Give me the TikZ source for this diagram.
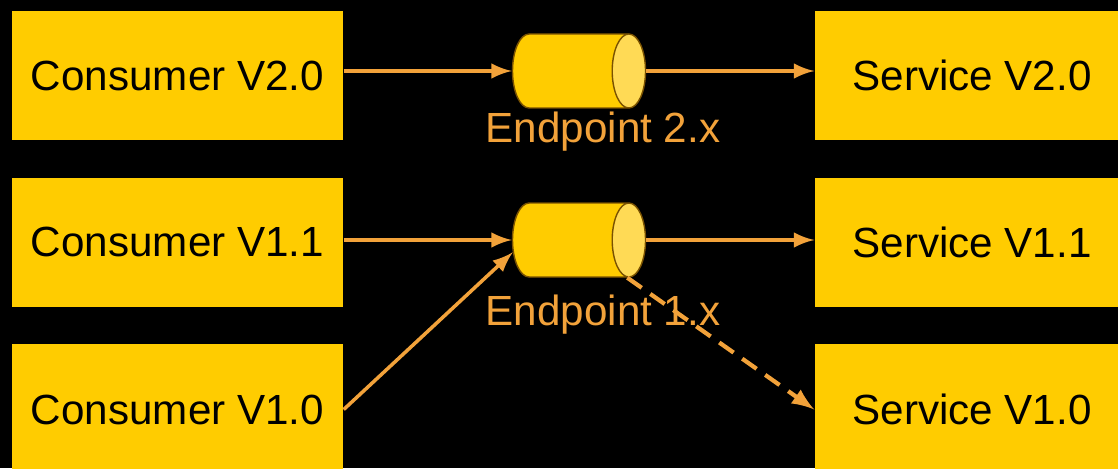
\documentclass[tikz,border=0pt]{standalone}
\usepackage{fontspec}
\setmainfont{Liberation Sans}
\usetikzlibrary{shapes.geometric}
\definecolor{boxyellow}{HTML}{FFCC00}
\definecolor{linkorange}{HTML}{F2A23A}
\definecolor{capyellow}{HTML}{FFDA55}
\definecolor{rimbrown}{HTML}{7A5200}
\begin{document}
\begin{tikzpicture}[
  box/.style={fill=boxyellow,inner sep=0pt,font=\fontsize{12}{14}\selectfont},
  pipe/.style={cylinder,shape border rotate=0,aspect=0.45,draw=rimbrown,thin,cylinder uses custom fill,cylinder body fill=boxyellow,cylinder end fill=capyellow,inner xsep=0pt,inner ysep=0.37cm,minimum height=1.33cm},
  lbl/.style={text=linkorange,font=\fontsize{12}{14}\selectfont},
  link/.style={->,>=latex,line width=1pt,draw=linkorange}
]
\fill[black] (0,0) rectangle (11.18,-4.68);
\useasboundingbox (0,0) rectangle (11.18,-4.68);
\node[box,minimum width=3.31cm,minimum height=1.29cm] (C20) at (1.775,-0.755) {Consumer V2.0};
\node[box,minimum width=3.31cm,minimum height=1.29cm] (C11) at (1.775,-2.42) {Consumer V1.1};
\node[box,minimum width=3.31cm,minimum height=1.31cm] (C10) at (1.775,-4.095) {Consumer V1.0};
\node[box,minimum width=3.14cm,minimum height=1.29cm] (S20) at (9.72,-0.755) {Service V2.0};
\node[box,minimum width=3.14cm,minimum height=1.29cm] (S11) at (9.72,-2.42) {Service V1.1};
\node[box,minimum width=3.14cm,minimum height=1.31cm] (S10) at (9.72,-4.095) {Service V1.0};
\node[pipe] (E20) at (5.62,-0.71) {};
\node[pipe] (E11) at (5.62,-2.40) {};
\node[lbl] (L20) at (6.03,-1.32) {Endpoint 2.x};
\node[lbl] (L11) at (6.03,-3.15) {Endpoint 1.x};
\draw[link] (C20.east |- E20) -- (E20.west);
\draw[link] (E20.east) -- (S20.west |- E20);
\draw[link] (C11.east |- E11) -- (E11.west);
\draw[link] (E11.east) -- (S11.west |- E11);
\draw[link] (C10.east) -- (E11.194);
\draw[link,line width=1.2pt,dash pattern=on 5pt off 3pt] (E11.-30) -- (S10.west);
\end{tikzpicture}
\end{document}
